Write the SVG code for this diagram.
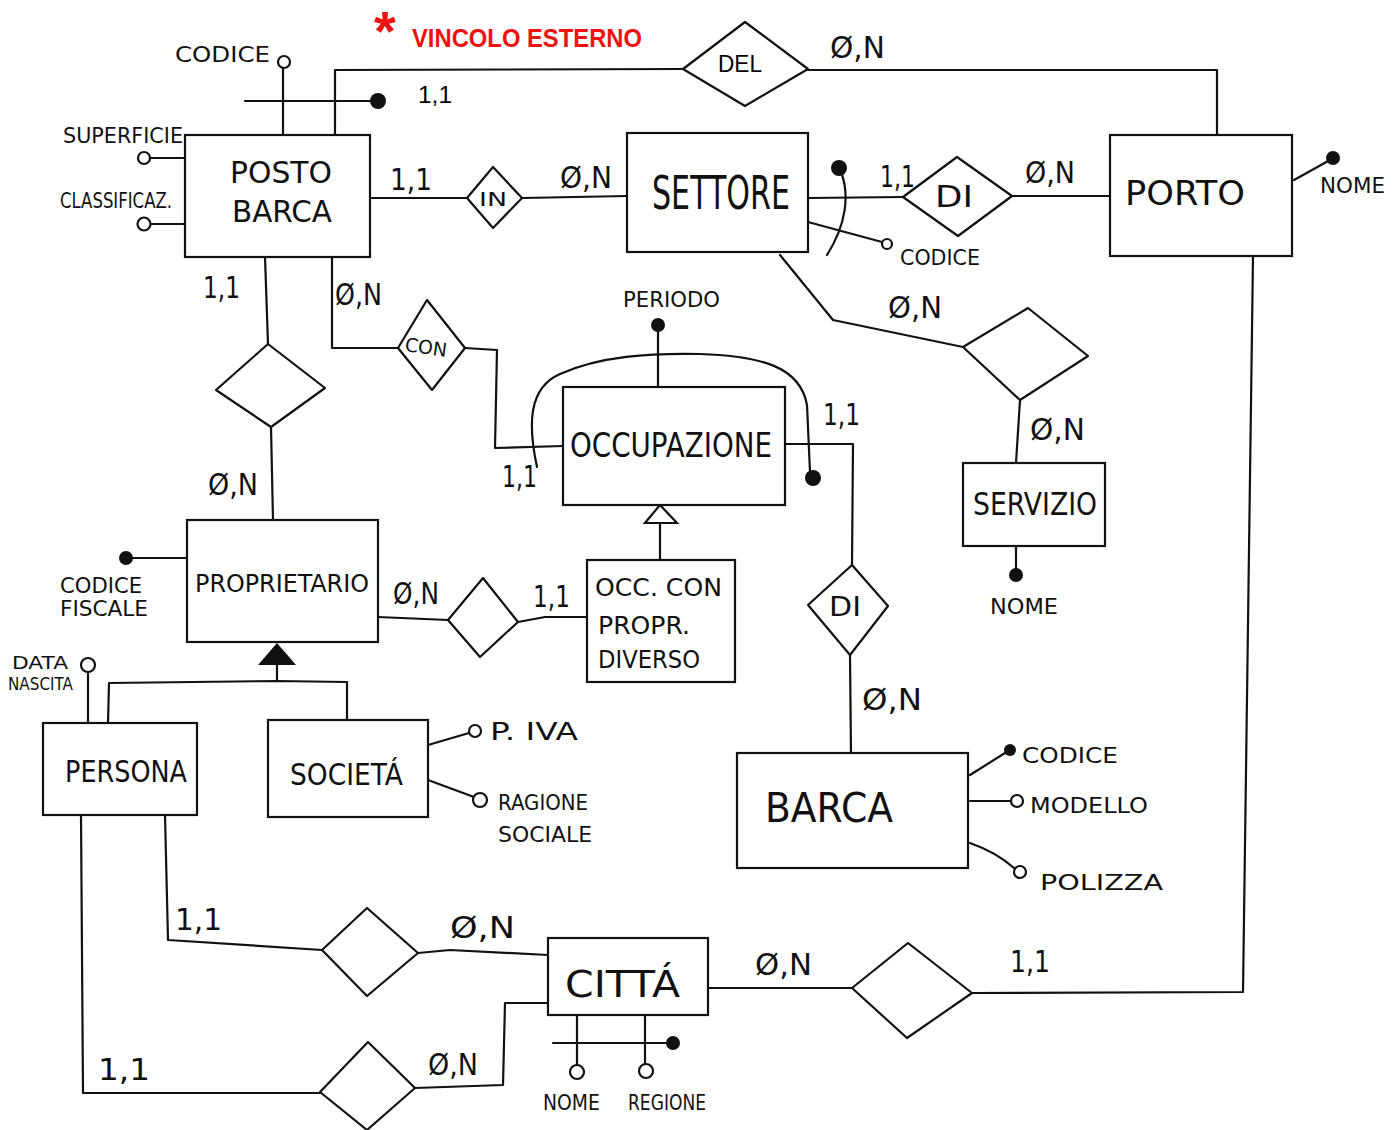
<svg xmlns="http://www.w3.org/2000/svg" width="1400" height="1130" viewBox="0 0 1400 1130">
<style>
.s{fill:none;stroke:#111;stroke-width:2.2;stroke-linejoin:round;stroke-linecap:round}
.b{fill:#fff;stroke:#111;stroke-width:2.2}
.d{fill:#fff;stroke:#111;stroke-width:2.2;stroke-linejoin:round}
.h{font-family:"DejaVu Sans","Liberation Sans",sans-serif;fill:#111;font-weight:normal}
.n{font-family:"DejaVu Sans Condensed","Liberation Sans Narrow","DejaVu Sans",sans-serif;fill:#111}
.e{font-size:30px}
.a{font-size:21px}
.c{font-size:30px}
.t{font-family:"Liberation Sans",Arial,sans-serif;fill:#000}
.r{font-family:"Liberation Sans",Arial,sans-serif;fill:#ee1111;font-weight:bold}
.o{fill:#fff;stroke:#111;stroke-width:2.2}
.f{fill:#111}
</style>
<rect width="1400" height="1130" fill="#fff"/>

<g id="connectors">
<path class="s" d="M335,135 L335,70 L683,69"/>
<path class="s" d="M808,70 L1217,70 L1217,135"/>
<path class="s" d="M370,198 L467,198"/>
<path class="s" d="M522,198 L627,196"/>
<path class="s" d="M808,198 L903,197"/>
<path class="s" d="M1012,196 L1110,196"/>
<path class="s" d="M780,255 L833,320 L963,347"/>
<path class="s" d="M1020,400 L1016,463"/>
<path class="s" d="M1253,256 L1243,992 L972,993"/>
<path class="s" d="M852,988 L708,988"/>
<path class="s" d="M265,257 L268,344"/>
<path class="s" d="M271,427 L273,520"/>
<path class="s" d="M332,257 L332,348 L398,348"/>
<path class="s" d="M465,348 L497,350 L495,448 L563,446"/>
<path class="s" d="M785,444 L853,444 L852,565"/>
<path class="s" d="M850,655 L851,755"/>
<path class="s" d="M378,617 L448,620"/>
<path class="s" d="M518,622 L545,617 L587,617"/>
<path class="s" d="M660,560 L660,523"/>
<path class="o" d="M660,505 L645,523 L677,523 Z"/>
<path class="s" d="M108,723 L109,683 L277,681 L347,682 L347,720"/>
<path class="s" d="M277,681 L277,664"/>
<path class="f" d="M277,643 L258,665 L296,665 Z"/>
<path class="s" d="M165,815 L168,940 L322,950"/>
<path class="s" d="M418,953 L450,950 L548,955"/>
<path class="s" d="M81,815 L83,1093 L320,1093"/>
<path class="s" d="M415,1088 L503,1085 L505,1003 L548,1003"/>
</g>

<g id="attributes">
<path class="s" d="M283,135 L283,68"/>
<circle class="o" cx="284" cy="62" r="6"/>
<path class="s" d="M245,101 L372,101"/>
<circle class="f" cx="378" cy="101" r="8"/>
<path class="s" d="M185,158 L150,158"/>
<circle class="o" cx="144" cy="158" r="6"/>
<path class="s" d="M185,224 L150,224"/>
<circle class="o" cx="144" cy="224" r="6.5"/>
<path class="s" d="M808,222 L882,242"/>
<circle class="o" cx="887" cy="244" r="5"/>
<circle class="f" cx="839" cy="168" r="8"/>
<path class="s" d="M841,172 C850,195 846,225 827,255"/>
<path class="s" d="M1294,180 L1330,160"/>
<circle class="f" cx="1333" cy="158" r="7"/>
<path class="s" d="M1016,546 L1016,570"/>
<circle class="f" cx="1016" cy="575" r="7"/>
<path class="s" d="M658,387 L658,330"/>
<circle class="f" cx="658" cy="325" r="7"/>
<path class="s" d="M537,467 C528,425 528,388 560,374 C600,356 650,353 700,354 C760,356 800,366 807,405 L810,472"/>
<circle class="f" cx="813" cy="478" r="8"/>
<path class="s" d="M187,558 L132,558"/>
<circle class="f" cx="126" cy="558" r="7"/>
<path class="s" d="M88,723 L88,672"/>
<circle class="o" cx="88" cy="665" r="7"/>
<path class="s" d="M428,745 L469,733"/>
<circle class="o" cx="475" cy="731" r="6"/>
<path class="s" d="M428,780 L474,797"/>
<circle class="o" cx="480" cy="800" r="7"/>
<path class="s" d="M970,775 L1005,753"/>
<circle class="f" cx="1010" cy="750" r="6"/>
<path class="s" d="M970,801 L1011,801"/>
<circle class="o" cx="1017" cy="801" r="6"/>
<path class="s" d="M970,843 C990,850 1005,860 1014,868"/>
<circle class="o" cx="1020" cy="872" r="6"/>
<path class="s" d="M577,1015 L577,1065"/>
<circle class="o" cx="577" cy="1072" r="7"/>
<path class="s" d="M645,1015 L645,1063"/>
<circle class="o" cx="646" cy="1071" r="7"/>
<path class="s" d="M553,1043 L667,1043"/>
<circle class="f" cx="673" cy="1043" r="7"/>
</g>

<g id="posto-barca"><rect class="b" x="185" y="135" width="185" height="122"/>
<text class="h e" x="230" y="183" textLength="102" lengthAdjust="spacingAndGlyphs">POSTO</text>
<text class="h e" x="232" y="222" textLength="100" lengthAdjust="spacingAndGlyphs">BARCA</text></g>

<g id="settore"><rect class="b" x="627" y="133" width="181" height="119"/>
<text class="h" font-size="46" x="652" y="209" textLength="138" lengthAdjust="spacingAndGlyphs">SETTORE</text></g>

<g id="porto"><rect class="b" x="1110" y="135" width="182" height="121"/>
<text class="h" font-size="34" x="1125" y="205" textLength="120" lengthAdjust="spacingAndGlyphs">PORTO</text></g>

<g id="occupazione"><rect class="b" x="563" y="387" width="222" height="118"/>
<text class="h" font-size="34" x="570" y="457" textLength="202" lengthAdjust="spacingAndGlyphs">OCCUPAZIONE</text></g>

<g id="servizio"><rect class="b" x="963" y="463" width="142" height="83"/>
<text class="h" font-size="32" x="973" y="515" textLength="124" lengthAdjust="spacingAndGlyphs">SERVIZIO</text></g>

<g id="proprietario"><rect class="b" x="187" y="520" width="191" height="122"/>
<text class="n" font-size="25" x="195" y="592" textLength="174" lengthAdjust="spacingAndGlyphs">PROPRIETARIO</text></g>

<g id="occ-con-propr-diverso"><rect class="b" x="587" y="560" width="148" height="122"/>
<text class="h" font-size="25" x="595" y="596" textLength="127" lengthAdjust="spacingAndGlyphs">OCC. CON</text>
<text class="h" font-size="25" x="598" y="634" textLength="92" lengthAdjust="spacingAndGlyphs">PROPR.</text>
<text class="h" font-size="25" x="598" y="668" textLength="102" lengthAdjust="spacingAndGlyphs">DIVERSO</text></g>

<g id="persona"><rect class="b" x="43" y="723" width="154" height="92"/>
<text class="h" font-size="30" x="65" y="782" textLength="122" lengthAdjust="spacingAndGlyphs">PERSONA</text></g>

<g id="societa"><rect class="b" x="268" y="720" width="160" height="97"/>
<text class="h" font-size="30" x="290" y="785" textLength="113" lengthAdjust="spacingAndGlyphs">SOCIETÁ</text></g>

<g id="barca"><rect class="b" x="737" y="753" width="231" height="115"/>
<text class="h" font-size="40" x="765" y="822" textLength="128" lengthAdjust="spacingAndGlyphs">BARCA</text></g>

<g id="citta"><rect class="b" x="548" y="938" width="160" height="77"/>
<text class="h" font-size="38" x="565" y="997" textLength="115" lengthAdjust="spacingAndGlyphs">CITTÁ</text></g>

<g id="rel-del"><path class="d" d="M745,22 L808,69 L745,106 L683,69 Z"/>
<text class="t" font-size="24" x="718" y="72" textLength="44" lengthAdjust="spacingAndGlyphs">DEL</text></g>

<g id="rel-in"><path class="d" d="M493,167 L522,198 L493,228 L467,198 Z"/>
<text class="h" font-size="19" x="479" y="206" textLength="28" lengthAdjust="spacingAndGlyphs">IN</text></g>

<g id="rel-di-porto"><path class="d" d="M957,157 L1012,196 L958,236 L903,197 Z"/>
<text class="h" font-size="30" x="935" y="207" textLength="38" lengthAdjust="spacingAndGlyphs">DI</text></g>

<g id="rel-settore-servizio"><path class="d" d="M1028,308 L1088,356 L1020,400 L963,347 Z"/></g>

<g id="rel-citta-porto"><path class="d" d="M908,943 L972,993 L907,1038 L852,988 Z"/></g>

<g id="rel-proprietario-posto"><path class="d" d="M268,344 L325,388 L271,427 L216,390 Z"/></g>

<g id="rel-con"><path class="d" d="M427,300 L465,348 L432,390 L398,348 Z"/>
<text class="h" font-size="19" x="405" y="354" textLength="42" lengthAdjust="spacingAndGlyphs" transform="rotate(8 426 348)">CON</text></g>

<g id="rel-di-barca"><path class="d" d="M852,565 L888,606 L850,655 L808,605 Z"/>
<text class="h" font-size="26" x="829" y="616" textLength="32" lengthAdjust="spacingAndGlyphs">DI</text></g>

<g id="rel-proprietario-occ"><path class="d" d="M483,578 L518,622 L480,657 L448,620 Z"/></g>

<g id="rel-persona-citta-1"><path class="d" d="M367,908 L418,953 L367,996 L322,950 Z"/></g>

<g id="rel-persona-citta-2"><path class="d" d="M368,1042 L415,1088 L367,1130 L320,1092 Z"/></g>

<g id="labels">
<text class="r" font-size="56" x="374" y="50">*</text>
<text class="r" font-size="26" x="412" y="47" textLength="230" lengthAdjust="spacingAndGlyphs">VINCOLO ESTERNO</text>
<text class="t" font-size="23" x="418" y="103" textLength="34" lengthAdjust="spacingAndGlyphs">1,1</text>

<text class="h a" x="175" y="62" textLength="95" lengthAdjust="spacingAndGlyphs">CODICE</text>
<text class="h a" x="63" y="143" textLength="120" lengthAdjust="spacingAndGlyphs">SUPERFICIE</text>
<text class="h a" x="60" y="208" textLength="112" lengthAdjust="spacingAndGlyphs">CLASSIFICAZ.</text>
<text class="h a" x="900" y="265" textLength="80" lengthAdjust="spacingAndGlyphs">CODICE</text>
<text class="h a" x="1320" y="193" textLength="65" lengthAdjust="spacingAndGlyphs">NOME</text>
<text class="h a" x="623" y="307" textLength="97" lengthAdjust="spacingAndGlyphs">PERIODO</text>
<text class="h a" x="990" y="614" textLength="68" lengthAdjust="spacingAndGlyphs">NOME</text>
<text class="h a" x="60" y="593" textLength="82" lengthAdjust="spacingAndGlyphs">CODICE</text>
<text class="h a" x="60" y="616" textLength="88" lengthAdjust="spacingAndGlyphs">FISCALE</text>
<text class="h" font-size="17" x="12" y="669" textLength="56" lengthAdjust="spacingAndGlyphs">DATA</text>
<text class="h" font-size="17" x="8" y="690" textLength="65" lengthAdjust="spacingAndGlyphs">NASCITA</text>
<text class="h" font-size="24" x="490" y="740" textLength="88" lengthAdjust="spacingAndGlyphs">P. IVA</text>
<text class="h a" x="498" y="810" textLength="90" lengthAdjust="spacingAndGlyphs">RAGIONE</text>
<text class="h a" x="498" y="842" textLength="94" lengthAdjust="spacingAndGlyphs">SOCIALE</text>
<text class="h a" x="1022" y="763" textLength="96" lengthAdjust="spacingAndGlyphs">CODICE</text>
<text class="h a" x="1030" y="813" textLength="118" lengthAdjust="spacingAndGlyphs">MODELLO</text>
<text class="h a" x="1040" y="890" textLength="123" lengthAdjust="spacingAndGlyphs">POLIZZA</text>
<text class="h a" x="543" y="1110" textLength="57" lengthAdjust="spacingAndGlyphs">NOME</text>
<text class="h a" x="628" y="1110" textLength="78" lengthAdjust="spacingAndGlyphs">REGIONE</text>

<text class="h c" x="830" y="58" textLength="55" lengthAdjust="spacingAndGlyphs">Ø,N</text>
<text class="h c" x="390" y="190" textLength="42" lengthAdjust="spacingAndGlyphs">1,1</text>
<text class="h c" x="560" y="188" textLength="52" lengthAdjust="spacingAndGlyphs">Ø,N</text>
<text class="h c" x="880" y="187" textLength="35" lengthAdjust="spacingAndGlyphs">1,1</text>
<text class="h c" x="1025" y="183" textLength="50" lengthAdjust="spacingAndGlyphs">Ø,N</text>
<text class="h c" x="203" y="298" textLength="37" lengthAdjust="spacingAndGlyphs">1,1</text>
<text class="h c" x="335" y="305" textLength="47" lengthAdjust="spacingAndGlyphs">Ø,N</text>
<text class="h c" x="888" y="318" textLength="54" lengthAdjust="spacingAndGlyphs">Ø,N</text>
<text class="h c" x="1030" y="440" textLength="55" lengthAdjust="spacingAndGlyphs">Ø,N</text>
<text class="h c" x="208" y="495" textLength="50" lengthAdjust="spacingAndGlyphs">Ø,N</text>
<text class="h c" x="502" y="487" textLength="35" lengthAdjust="spacingAndGlyphs">1,1</text>
<text class="h c" x="823" y="425" textLength="37" lengthAdjust="spacingAndGlyphs">1,1</text>
<text class="h c" x="393" y="604" textLength="46" lengthAdjust="spacingAndGlyphs">Ø,N</text>
<text class="h c" x="533" y="607" textLength="37" lengthAdjust="spacingAndGlyphs">1,1</text>
<text class="h c" x="862" y="710" textLength="60" lengthAdjust="spacingAndGlyphs">Ø,N</text>
<text class="h c" x="175" y="930" textLength="47" lengthAdjust="spacingAndGlyphs">1,1</text>
<text class="h c" x="450" y="938" textLength="65" lengthAdjust="spacingAndGlyphs">Ø,N</text>
<text class="h c" x="755" y="975" textLength="57" lengthAdjust="spacingAndGlyphs">Ø,N</text>
<text class="h c" x="1010" y="972" textLength="40" lengthAdjust="spacingAndGlyphs">1,1</text>
<text class="h c" x="98" y="1080" textLength="52" lengthAdjust="spacingAndGlyphs">1,1</text>
<text class="h c" x="428" y="1075" textLength="50" lengthAdjust="spacingAndGlyphs">Ø,N</text>
</g>
</svg>
